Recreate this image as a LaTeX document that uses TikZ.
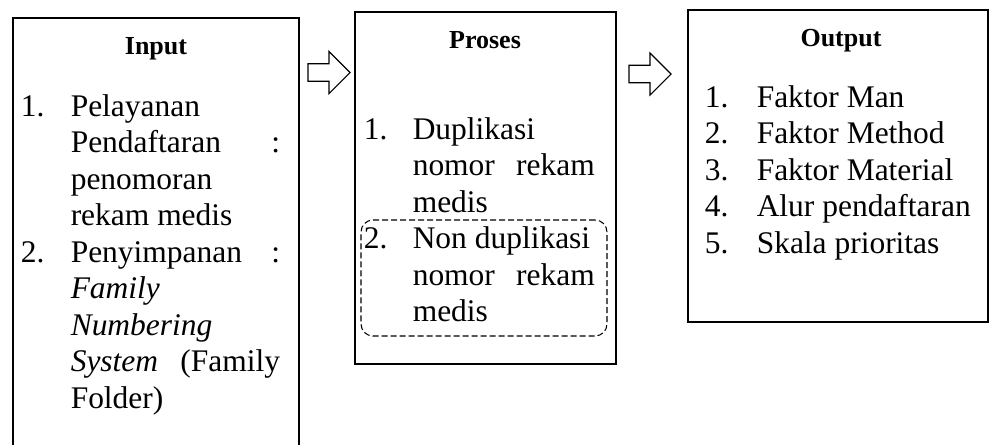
\documentclass[tikz,border=0pt]{standalone}
\usepackage{fontspec}
\setmainfont{Liberation Serif}
\usetikzlibrary{fit}
\begin{document}
\begin{tikzpicture}[x=0.75pt,y=-0.75pt,
  box/.style={draw, line width=0.8pt, inner sep=0pt},
  body/.style={font=\fontsize{23.6}{27.4}\selectfont, inner sep=0pt, anchor=base west},
  title/.style={font=\fontsize{19.5}{23}\selectfont\bfseries, inner sep=0pt, anchor=base},
  blockarrow/.style={draw, line width=0.8pt, fill=white, line join=miter},
  dashbox/.style={draw, line width=0.8pt, dash pattern=on 4.5pt off 2.25pt, rounded corners=9pt, inner sep=0pt}]
\useasboundingbox (0,0) rectangle (989,444);
% boxes
\node[box, fit={(13,18) (299,470)}] (input) {};
\node[box, fit={(355,12) (616,364)}] (proses) {};
\node[box, fit={(688,10) (988,322)}] (output) {};
\node[dashbox, fit={(361,220) (607,336)}] (nondup) {};
% block arrows
\coordinate (a1) at (308,72.5);
\coordinate (a2) at (629,74);
\foreach \a in {a1,a2}
  \draw[blockarrow] (\a) ++(0,-8.75) -- ++(21,0) -- ++(0,-12.25) -- ++(21,21)
    -- ++(-21,21) -- ++(0,-12.25) -- ++(-21,0) -- cycle;
% titles
\node[title] (t-in) at (156,54) {Input};
\node[title] (t-pr) at (485,48) {Proses};
\node[title] (t-out) at (841,46) {Output};
% input text
\node[body] (in-n1) at (20.5,116) {1.};
\node[body] (in-n2) at (20.5,262) {2.};
\foreach \t [count=\i from 0] in {Pelayanan, {\makebox[157pt]{Pendaftaran\hfill:}}, penomoran, rekam medis, {\makebox[157pt]{Penyimpanan\hfill:}}, {\textit{Family}}, {\textit{Numbering}}, {\makebox[157pt]{\textit{System}\hfill(Family}}, {Folder)}}
  \node[body] (in-\i) at (70.5,{116+36.5*\i}) {\t};
% proses text
\node[body] (pr-n1) at (363.5,139) {1.};
\node[body] (pr-n2) at (363.5,248.5) {2.};
\foreach \t [count=\i from 0] in {Duplikasi, {\makebox[136.5pt]{nomor\hfill rekam}}, medis, Non duplikasi, {\makebox[136.5pt]{nomor\hfill rekam}}, medis}
  \node[body] (pr-\i) at (412.5,{139+36.5*\i}) {\t};
% output text
\foreach \t [count=\i] in {Faktor Man, Faktor Method, Faktor Material, Alur pendaftaran, Skala prioritas}{
  \node[body] (out-n\i) at (704.5,{107+36.5*(\i-1)}) {\i.};
  \node[body] (out-\i) at (756.5,{107+36.5*(\i-1)}) {\t};
}
\end{tikzpicture}
\end{document}
